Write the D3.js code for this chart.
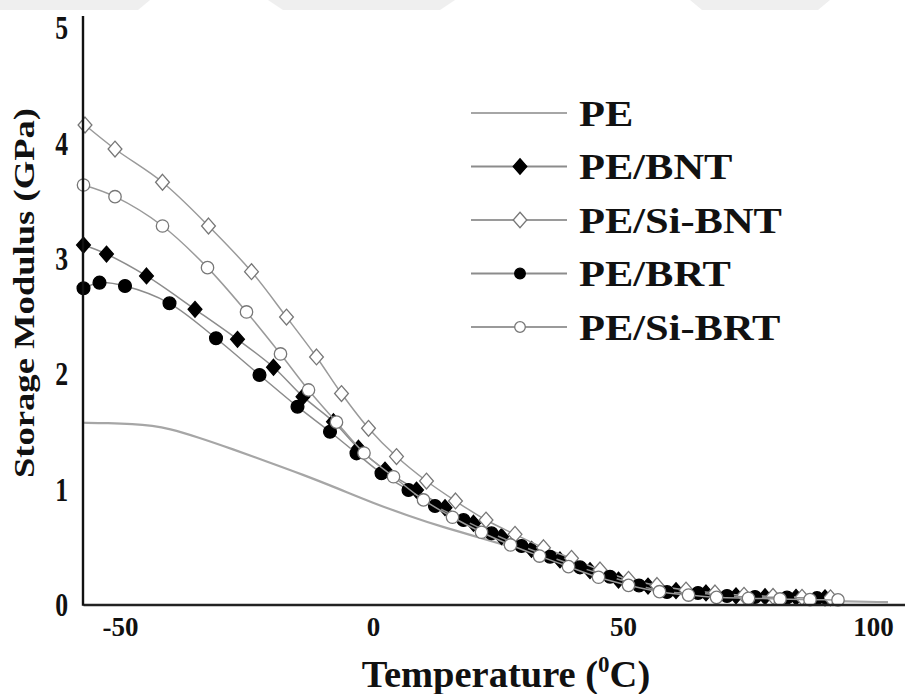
<!DOCTYPE html>
<html>
<head>
<meta charset="utf-8">
<script src="https://cdn.jsdelivr.net/npm/d3@7"></script>
<style>
  html, body { margin: 0; padding: 0; background: #fff; }
  svg { display: block; }
  text { font-family: "Liberation Serif", "Times New Roman", "DejaVu Serif", serif; font-weight: bold; fill: #111; }
</style>
</head>
<body>
<svg id="chart" width="905" height="694"></svg>
<script>
// ---- data ----
const xTicks = [-50, 0, 50, 100];
const yTicks = [0, 1, 2, 3, 4, 5];
const seriesNames = ["PE", "PE/BNT", "PE/Si-BNT", "PE/BRT", "PE/Si-BRT"];

const peT = [-58, -53, -48, -44, -41, -35, -28, -21, -14, -7, 0, 7, 14, 21, 28, 35, 42, 49, 56, 63, 70, 80, 90, 103];
const peE = [1.575, 1.573, 1.565, 1.548, 1.527, 1.45, 1.345, 1.235, 1.125, 1.005, 0.88, 0.77, 0.67, 0.585, 0.495, 0.4, 0.3, 0.215, 0.15, 0.1, 0.07, 0.045, 0.03, 0.02];

const bntT = [-57.9, -53.3, -45.3, -35.6, -27.1, -19.9, -14.0, -7.9, -2.9, 2.4, 8.7, 14.4, 20.1, 25.7, 31.7, 37.4, 43.4, 49.1, 55.0, 60.6, 66.6, 72.6, 78.4, 84.6, 90.4];
const bntE = [3.115, 3.037, 2.847, 2.558, 2.298, 2.056, 1.801, 1.584, 1.354, 1.165, 0.992, 0.839, 0.704, 0.588, 0.478, 0.386, 0.293, 0.212, 0.16, 0.12, 0.1, 0.075, 0.068, 0.062, 0.058];

const sibntT = [-57.6, -51.6, -42.1, -32.9, -24.3, -17.3, -11.3, -6.3, -0.9, 4.7, 10.7, 16.5, 22.6, 28.4, 34.1, 39.7, 45.4, 51.1, 56.8, 62.6, 68.4, 74.2, 80.0, 85.8, 91.5];
const sibntE = [4.155, 3.947, 3.659, 3.280, 2.884, 2.491, 2.145, 1.828, 1.527, 1.282, 1.070, 0.897, 0.732, 0.608, 0.492, 0.400, 0.299, 0.218, 0.165, 0.125, 0.1, 0.08, 0.07, 0.062, 0.058];

const brtT = [-57.9, -54.7, -49.6, -40.7, -31.4, -22.7, -15.1, -8.6, -3.3, 1.7, 7.1, 12.4, 18.1, 23.7, 29.7, 35.4, 41.4, 47.4, 53.2, 58.8, 65.0, 70.8, 76.4, 82.8, 88.8];
const brtE = [2.740, 2.789, 2.760, 2.610, 2.307, 1.989, 1.714, 1.497, 1.310, 1.137, 0.992, 0.854, 0.732, 0.617, 0.507, 0.414, 0.322, 0.241, 0.165, 0.108, 0.1, 0.074, 0.065, 0.06, 0.055];

const sibrtT = [-57.9, -51.6, -42.1, -33.1, -25.3, -18.5, -12.9, -7.3, -1.8, 4.1, 10.1, 15.9, 21.7, 27.5, 33.3, 39.1, 45.1, 51.1, 57.3, 63.1, 68.7, 75.1, 81.4, 87.4, 93.0];
const sibrtE = [3.635, 3.534, 3.280, 2.919, 2.535, 2.171, 1.859, 1.580, 1.313, 1.107, 0.906, 0.756, 0.626, 0.516, 0.420, 0.328, 0.236, 0.166, 0.111, 0.082, 0.062, 0.054, 0.048, 0.042, 0.04];

// ---- layout ----
const svg = d3.select("#chart");
const x = d3.scaleLinear().domain([-58, 106.4]).range([83, 905]);
const y = d3.scaleLinear().domain([0, 5]).range([604.5, 27.5]);

const zip = (ts, es) => ts.map((t, i) => ({ t, e: es[i] }));
const series = [
  { name: seriesNames[0], data: zip(peT, peE), marker: null, line: "#a6a6a6", lw: 2.2 },
  { name: seriesNames[1], data: zip(bntT, bntE), marker: "diamond", fill: "#000", stroke: "#000", line: "#8c8c8c", lw: 1.5 },
  { name: seriesNames[2], data: zip(sibntT, sibntE), marker: "diamond", fill: "#fff", stroke: "#777", line: "#9a9a9a", lw: 1.5 },
  { name: seriesNames[3], data: zip(brtT, brtE), marker: "circle", fill: "#000", stroke: "#000", line: "#8c8c8c", lw: 1.5 },
  { name: seriesNames[4], data: zip(sibrtT, sibrtE), marker: "circle", fill: "#fff", stroke: "#777", line: "#9a9a9a", lw: 1.5 }
];

// faint watermark shapes along the top edge
const wm = svg.append("g").attr("fill", "#efefef");
wm.append("path").attr("d", "M0,0 L150,0 L138,10 L0,10 Z");
wm.append("path").attr("d", "M268,0 L455,0 L440,10 L283,10 Z");
wm.append("path").attr("d", "M690,0 L830,0 L818,10 L702,10 Z");

const lineGen = d3.line().x(d => x(d.t)).y(d => y(d.e)).curve(d3.curveCatmullRom.alpha(0.5));
const smoothGen = d3.line().x(d => x(d.t)).y(d => y(d.e)).curve(d3.curveBasis);

function drawMarker(g, type, cx, cy, fill, stroke, rx, ry) {
  if (type === "circle") {
    g.append("circle").attr("cx", cx).attr("cy", cy).attr("r", rx)
      .attr("fill", fill).attr("stroke", stroke).attr("stroke-width", 1.3);
  } else if (type === "diamond") {
    g.append("path").attr("transform", `translate(${cx},${cy})`)
      .attr("d", `M0,${-ry} L${rx},0 L0,${ry} L${-rx},0 Z`)
      .attr("fill", fill).attr("stroke", stroke).attr("stroke-width", 1.3);
  }
}

const plot = svg.append("g");
series.forEach(s => {
  const g = plot.append("g");
  g.append("path").datum(s.data).attr("d", s.marker ? lineGen : smoothGen)
    .attr("fill", "none").attr("stroke", s.line).attr("stroke-width", s.lw);
  if (s.marker) {
    const filled = s.fill === "#000";
    const rx = s.marker === "circle" ? (filled ? 6.4 : 6.2) : 6.9;
    const ry = s.marker === "circle" ? rx : 7.9;
    s.data.forEach(d => drawMarker(g, s.marker, x(d.t), y(d.e), s.fill, s.stroke, rx, ry));
  }
});

// ---- axes ----
const xAxis = d3.axisBottom(x).tickValues(xTicks).tickSize(0).tickPadding(12).tickSizeOuter(0)
  .tickFormat(d => d < 0 ? "-" + Math.abs(d) : String(d));
const gx = svg.append("g").attr("transform", `translate(0,${y(0)})`).call(xAxis);
gx.select(".domain").attr("stroke", "#222").attr("stroke-width", 2.6);
gx.selectAll(".tick text")
  .attr("font-size", 27).attr("font-family", "Liberation Serif, Times New Roman, serif")
  .attr("font-weight", "bold").attr("fill", "#111").attr("dy", "0.71em")
  .attr("dx", d => d < 0 ? -3 : 0);

const gy = svg.append("g").attr("transform", `translate(${x(-58)},0)`)
  .call(d3.axisLeft(y).tickValues(yTicks).tickSize(0).tickPadding(15).tickSizeOuter(0).tickFormat(d3.format("d")));
gy.select(".domain").remove();
svg.append("line").attr("x1", x(-58)).attr("x2", x(-58)).attr("y1", y(0) + 1.2).attr("y2", y(5.1))
  .attr("stroke", "#111").attr("stroke-width", 2.4);
gy.selectAll(".tick text")
  .attr("font-size", 33).attr("font-family", "Liberation Serif, Times New Roman, serif")
  .attr("font-weight", "bold").attr("fill", "#111").attr("dy", "0.34em")
  .style("transform-box", "fill-box").style("transform-origin", "right center")
  .style("transform", "scaleX(0.78)");

// ---- axis titles ----
const xt = svg.append("text").attr("x", 506).attr("y", 687).attr("text-anchor", "middle")
  .attr("font-size", 38.5);
xt.append("tspan").text("Temperature (");
xt.append("tspan").text("0").attr("font-size", 23).attr("dy", -15);
xt.append("tspan").text("C)").attr("dy", 15);

svg.append("text").attr("transform", `translate(34,293) rotate(-90)`)
  .attr("text-anchor", "middle").attr("font-size", 30)
  .attr("textLength", 370).attr("lengthAdjust", "spacingAndGlyphs")
  .text("Storage Modulus (GPa)");

// ---- legend ----
const legRowY = d3.scaleLinear().domain([0, 4]).range([113, 327]);
const leg = svg.append("g");
series.forEach((s, i) => {
  const yy = legRowY(i);
  leg.append("line").attr("x1", 471).attr("x2", 567).attr("y1", yy).attr("y2", yy)
    .attr("stroke", s.marker ? s.line : "#a6a6a6").attr("stroke-width", 2);
  if (s.marker) {
    if (s.marker === "circle") drawMarker(leg, "circle", 520, yy, s.fill, s.stroke, 5.3, 5.3);
    else drawMarker(leg, "diamond", 520, yy, s.fill, s.stroke, 6.8, 7.8);
  }
  leg.append("text").attr("x", 579).attr("y", yy + 13).attr("font-size", 36)
    .style("transform-box", "fill-box").style("transform-origin", "left center")
    .style("transform", "scaleX(1.18)")
    .text(s.name);
});
</script>
</body>
</html>
